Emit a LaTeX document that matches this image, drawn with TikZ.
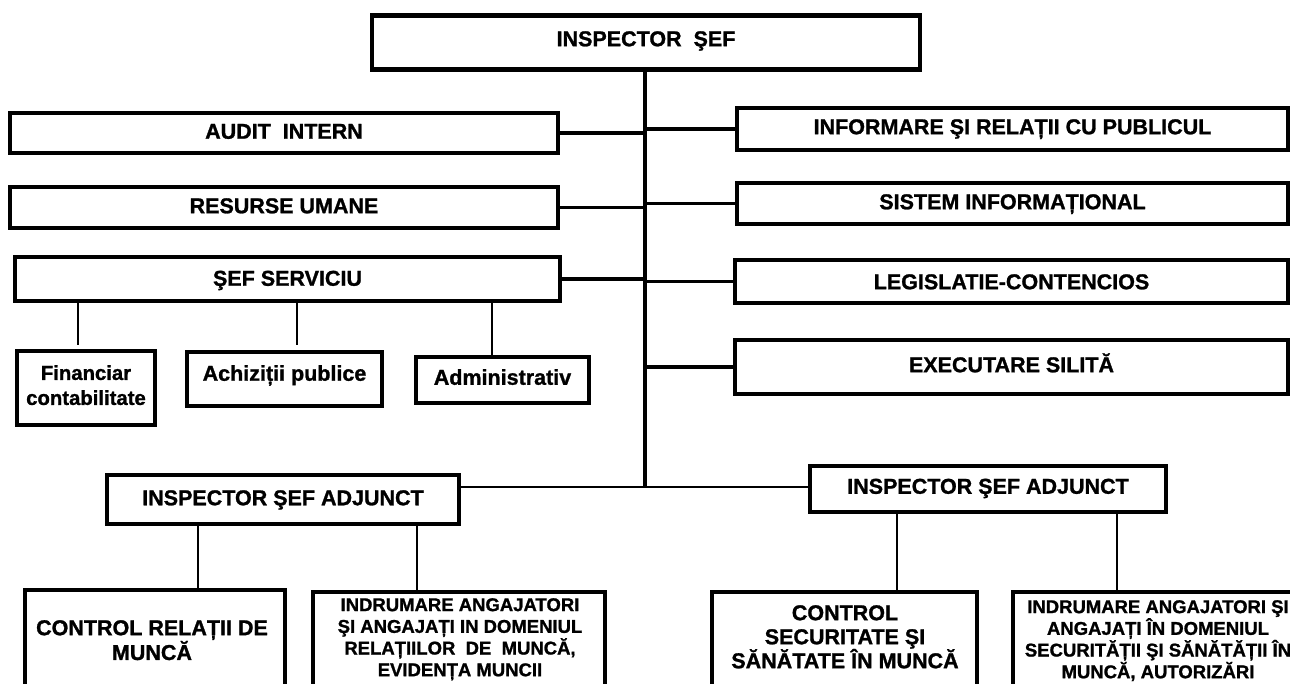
\documentclass[tikz,border=0pt]{standalone}
\usepackage{fontspec}
\setmainfont{Liberation Sans}[BoldFeatures={FakeBold=1.2}]
\usetikzlibrary{calc}
\begin{document}
\begin{tikzpicture}[x=1pt,y=-1pt,
  box/.style={draw, line width=4.5pt, inner sep=0pt, font=\bfseries\fontsize{21.5}{24}\selectfont, text height=15.5pt, text depth=4pt},
  lowbox/.style={draw, line width=4.5pt, inner sep=0pt},
  btext/.style={inner sep=0pt, align=center, anchor=north},
  conn/.style={line width=3.5pt},
  thinconn/.style={line width=1.6pt}]
\useasboundingbox (0,0) rectangle (1290,684);
\clip (0,0) rectangle (1290,684);
% top
\node[box, minimum width=548pt, minimum height=54pt, text depth=8pt] (top) at (646,42.5) {INSPECTOR~~ŞEF};
% left column
\node[box, minimum width=548pt, minimum height=40pt] (audit) at (284,133) {AUDIT~~INTERN};
\node[box, minimum width=548pt, minimum height=41pt] (resurse) at (284,207.5) {RESURSE UMANE};
\node[box, minimum width=545pt, minimum height=44pt, text depth=2pt] (sef) at (287.5,279) {ŞEF SERVICIU};
% right column
\node[box, minimum width=551pt, minimum height=42pt, text depth=5pt] (info) at (1012.5,129) {INFORMARE ŞI RELAȚII CU PUBLICUL};
\node[box, minimum width=551pt, minimum height=41pt] (sistem) at (1012.5,203.5) {SISTEM INFORMAȚIONAL};
\node[box, minimum width=553pt, minimum height=43pt, text depth=0pt] (legis) at (1011.5,281.5) {LEGISLATIE-CONTENCIOS};
\node[box, minimum width=553pt, minimum height=54pt, text depth=5pt] (exec) at (1011.5,367) {EXECUTARE SILITĂ};
% sub boxes of sef serviciu
\node[lowbox, minimum width=138pt, minimum height=74pt] (fin) at (86,388) {};
\node[btext, font=\bfseries\fontsize{20.3}{25}\selectfont] (finT) at (86,365) {Financiar\\contabilitate};
\node[box, minimum width=195pt, minimum height=54pt, text depth=12pt] (achiz) at (284.5,379) {Achiziții publice};
\node[box, minimum width=173pt, minimum height=46pt, text depth=6pt] (admin) at (502.5,380) {Administrativ};
% deputies
\node[box, minimum width=352pt, minimum height=49pt] (isaL) at (283,499.5) {INSPECTOR ŞEF ADJUNCT};
\node[box, minimum width=356pt, minimum height=46pt, text depth=6pt] (isaR) at (988,489) {INSPECTOR ŞEF ADJUNCT};
% bottom boxes
\node[lowbox, minimum width=260pt, minimum height=150pt] (crm) at (155,665) {};
\node[lowbox, minimum width=292pt, minimum height=148pt] (irm) at (459,666) {};
\node[lowbox, minimum width=265pt, minimum height=148pt] (css) at (844.5,666) {};
\node[lowbox, minimum width=292pt, minimum height=148pt] (iss) at (1159,666) {};
\node[btext, font=\bfseries\fontsize{21.5}{23}\selectfont] (crmT) at (152,620) {CONTROL RELAȚII DE\\MUNCĂ};
\node[btext, font=\bfseries\fontsize{18.5}{21.7}\selectfont] (irmT) at (460,598) {INDRUMARE ANGAJATORI\\ŞI ANGAJAȚI IN DOMENIUL\\RELAȚIILOR~~DE~~MUNCĂ,\\EVIDENȚA MUNCII};
\node[btext, font=\bfseries\fontsize{21.5}{24}\selectfont] (cssT) at (845,605) {CONTROL\\SECURITATE ŞI\\SĂNĂTATE ÎN MUNCĂ};
\node[btext, font=\bfseries\fontsize{18.5}{21.7}\selectfont] (issT) at (1158,600) {INDRUMARE ANGAJATORI ŞI\\ANGAJAȚI ÎN DOMENIUL\\SECURITĂȚII ŞI SĂNĂTĂȚII ÎN\\MUNCĂ, AUTORIZĂRI};
% trunk
\coordinate (tb) at (645,487);
\draw[conn] (top.south -| tb) -- (tb);
\draw[conn] (audit.east) -- (audit.east -| tb);
\draw[conn] (resurse.east) -- (resurse.east -| tb);
\draw[conn] (sef.east) -- (sef.east -| tb);
\draw[conn] (info.west) -- (info.west -| tb);
\draw[conn] (sistem.west) -- (sistem.west -| tb);
\draw[conn] (legis.west) -- (legis.west -| tb);
\draw[conn] (exec.west) -- (exec.west -| tb);
\draw[thinconn] (isaL.east |- tb) -- (tb) -- (isaR.west |- tb);
% sef serviciu subconnectors
\draw[thinconn] ([xshift=-8pt]fin.north |- sef.south) -- ([xshift=-8pt,yshift=4pt]fin.north);
\draw[thinconn] ([xshift=12.5pt]achiz.north |- sef.south) -- ([xshift=12.5pt,yshift=5pt]achiz.north);
\draw[thinconn] ([xshift=-10.5pt]admin.north |- sef.south) -- ([xshift=-10.5pt]admin.north);
% deputies subconnectors
\draw[thinconn] ([xshift=43pt]crm.north |- isaL.south) -- ([xshift=43pt]crm.north);
\draw[thinconn] ([xshift=-42pt]irm.north |- isaL.south) -- ([xshift=-42pt]irm.north);
\draw[thinconn] ([xshift=52.5pt]css.north |- isaR.south) -- ([xshift=52.5pt]css.north);
\draw[thinconn] ([xshift=-42pt]iss.north |- isaR.south) -- ([xshift=-42pt]iss.north);
\end{tikzpicture}
\end{document}
